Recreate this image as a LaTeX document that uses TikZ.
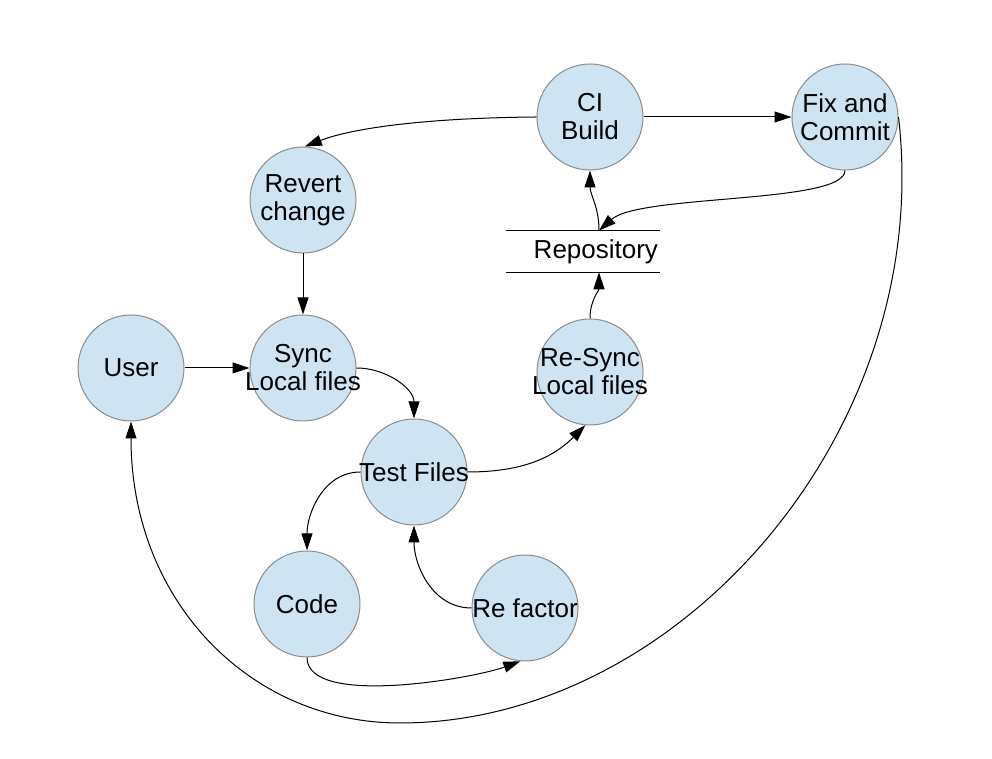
\documentclass[tikz,border=0pt]{standalone}
\usepackage{fontspec}
\setmainfont{Liberation Sans}
\usetikzlibrary{arrows.meta}
\definecolor{bubble}{RGB}{207,228,242}
\definecolor{rim}{RGB}{140,140,140}

\begin{document}
\begin{tikzpicture}[x=0.5pt,y=0.5pt,
    font=\fontsize{13}{14}\selectfont,
    state/.style={circle,draw=rim,fill=bubble,line width=0.5pt,minimum size=53pt,inner sep=0pt},
    txt/.style={align=center,inner sep=0pt},
    store/.style={minimum height=20.5pt,text width=75pt,inner xsep=1pt,inner ysep=0pt,align=right},
    flow/.style={-{Triangle[length=8.5pt,width=5.5pt]},line width=0.5pt}]
    \useasboundingbox (0,0) rectangle (992,759);
    \node[state,label={[txt]center:{CI\\Build}}] (ci) at (590,642) {};
    \node[state,label={[txt]center:{Fix and\\Commit}}] (fix) at (845,642) {};
    \node[state,label={[txt]center:{Revert\\change}}] (revert) at (303,559) {};
    \node[state,label={[txt]center:User}] (user) at (131,391) {};
    \node[state,label={[txt]center:{Sync\\Local files}}] (sync) at (303,391) {};
    \node[state,label={[txt]center:{Re-Sync\\Local files}}] (resync) at (590,387) {};
    \node[state,label={[txt]center:Test Files}] (test) at (414,287) {};
    \node[state,label={[txt]center:Code}] (code) at (307,155) {};
    \node[state,label={[txt]center:Re factor}] (refactor) at (525,151) {};
    \node[store] (repo) at (583,507.5) {Repository};
    \draw[line width=0.5pt] (repo.north west) -- (repo.north east);
    \draw[line width=0.5pt] (repo.south west) -- (repo.south east);
    \path[flow] (ci.east) edge (fix.west);
    \draw[flow] (ci.west) .. controls (420,641) and (350,630) .. (revert.88);
    \path[flow] (revert.south) edge (sync.north);
    \path[flow] (user.east) edge (sync.west);
    \path[flow] (sync.east) edge[out=0,in=90] (test.north);
    \path[flow] (test.west) edge[out=180,in=90] (code.north);
    \path[flow] (test.east) edge[out=0,in=-135] (resync.-95);
    \path[flow] (resync.north) edge[out=90,in=-90] ([xshift=8pt]repo.south);
    \path[flow] ([xshift=8pt]repo.north) edge[out=90,in=-90] (ci.south);
    \draw[flow] (fix.south) .. controls (845,555) and (640,565) .. ([xshift=8pt]repo.north);
    \path[flow] (code.south) edge[out=-90,in=-160,looseness=0.6] (refactor.-95);
    \path[flow] (refactor.west) edge[out=180,in=-90] (test.south);
    \draw[flow] (fix.east) .. controls (935,329) and (680,36) .. (400,36)
        .. controls (250,36) and (131,158) .. (user.south);
\end{tikzpicture}
\end{document}
